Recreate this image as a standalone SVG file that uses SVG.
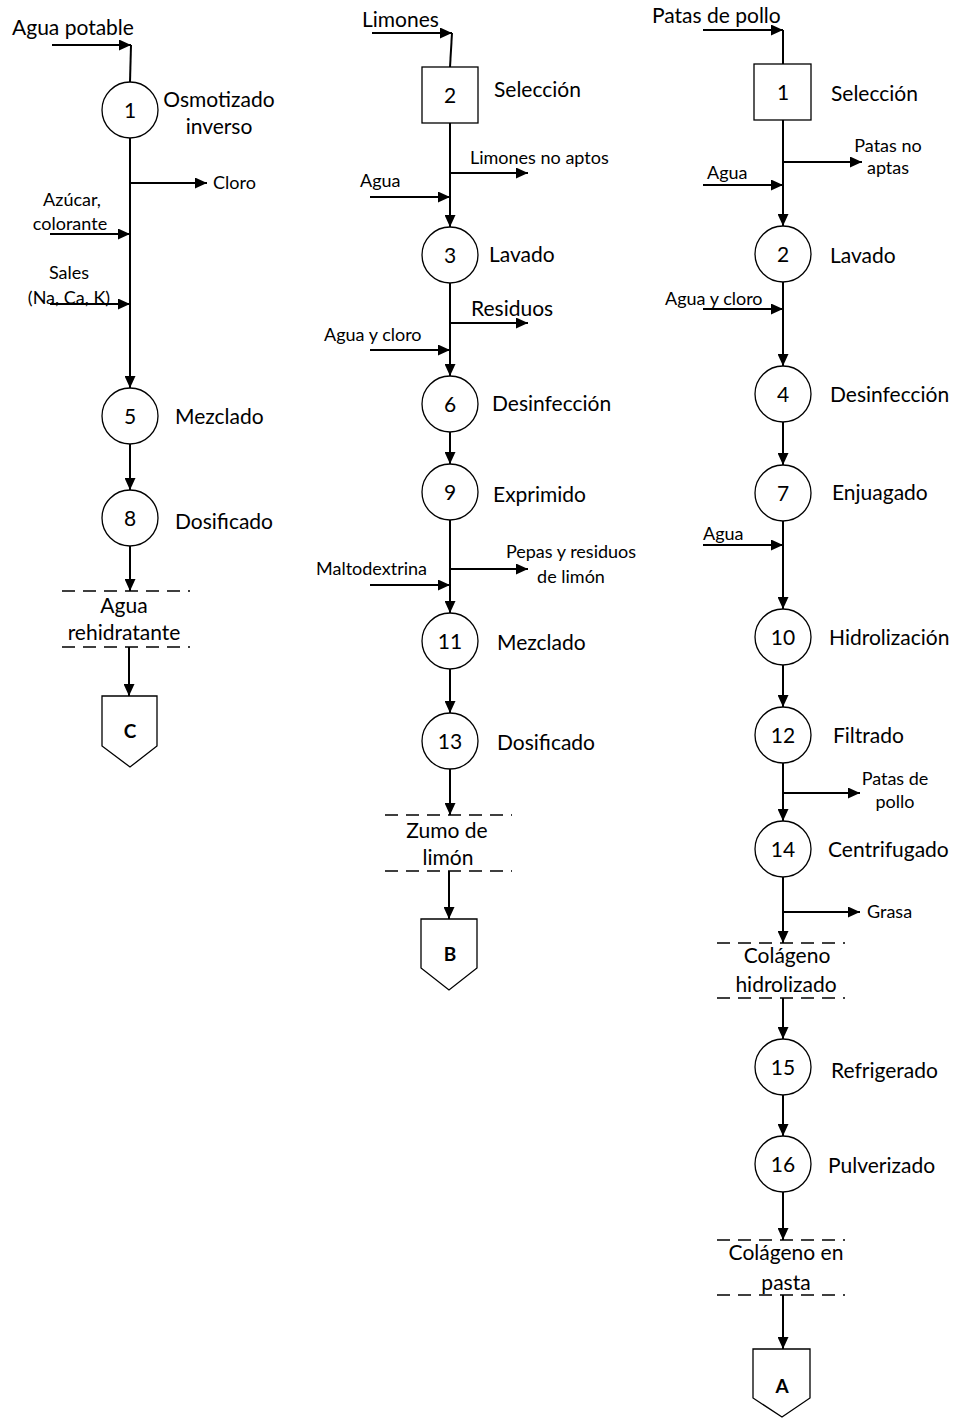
<svg xmlns="http://www.w3.org/2000/svg" width="957" height="1419" viewBox="0 0 957 1419">
  <style>
    text { font-family: Lato, "Liberation Sans", sans-serif; fill: #000; }
    .lg { font-size: 21px; }
    .sm { font-size: 18px; }
    .num { font-size: 21px; text-anchor: middle; }
    .mid { text-anchor: middle; }
    .tag { font-size: 19px; font-weight: bold; text-anchor: middle; }
    .proc { fill: #fff; stroke: #000; stroke-width: 1.3; }
    .flow { stroke: #000; stroke-width: 2; fill: none; }
    .arr { marker-end: url(#ah); }
    .cut { stroke: #000; stroke-width: 1.5; stroke-dasharray: 13 8; fill: none; }
  </style>
  <defs>
    <marker id="ah" markerUnits="userSpaceOnUse" markerWidth="12" markerHeight="11" refX="12" refY="5.5" orient="auto">
      <path d="M0,0 L12,5.5 L0,11 z" fill="#000"/>
    </marker>
  </defs>
  <rect width="957" height="1419" fill="#fff"/>

  <!-- connectors -->
  <g id="connectors">
    <!-- line C: rehydrating water -->
    <path class="flow arr" d="M52,45 H131"/>
    <path class="flow" d="M131,45 L130,82"/>
    <path class="flow arr" d="M130,138 V388"/>
    <path class="flow arr" d="M130,183 H207"/>
    <path class="flow arr" d="M50,234 H130"/>
    <path class="flow arr" d="M50,304 H130"/>
    <path class="flow arr" d="M130,444 V490"/>
    <path class="flow arr" d="M130,546 V591"/>
    <path class="flow arr" d="M129,647 V696"/>
    <!-- line B: lemon juice -->
    <path class="flow arr" d="M372,33 H452"/>
    <path class="flow" d="M452,33 L450,67"/>
    <path class="flow arr" d="M450,123 V227"/>
    <path class="flow arr" d="M450,173 H528"/>
    <path class="flow arr" d="M370,197 H450"/>
    <path class="flow arr" d="M450,283 V376"/>
    <path class="flow arr" d="M450,323 H528"/>
    <path class="flow arr" d="M370,350 H450"/>
    <path class="flow arr" d="M450,432 V464"/>
    <path class="flow arr" d="M450,520 V613"/>
    <path class="flow arr" d="M450,569 H528"/>
    <path class="flow arr" d="M370,585 H450"/>
    <path class="flow arr" d="M450,669 V713"/>
    <path class="flow arr" d="M450,769 V815"/>
    <path class="flow arr" d="M449,871 V919"/>
    <!-- line A: collagen -->
    <path class="flow arr" d="M703,30 H783"/>
    <path class="flow" d="M783,30 V64"/>
    <path class="flow arr" d="M783,120 V226"/>
    <path class="flow arr" d="M783,162 H862"/>
    <path class="flow arr" d="M703,185 H783"/>
    <path class="flow arr" d="M783,282 V366"/>
    <path class="flow arr" d="M703,309 H783"/>
    <path class="flow arr" d="M783,422 V465"/>
    <path class="flow arr" d="M783,521 V609"/>
    <path class="flow arr" d="M703,545 H783"/>
    <path class="flow arr" d="M783,665 V707"/>
    <path class="flow arr" d="M783,763 V821"/>
    <path class="flow arr" d="M783,793 H860"/>
    <path class="flow arr" d="M783,877 V943"/>
    <path class="flow arr" d="M783,912 H860"/>
    <path class="flow arr" d="M783,998 V1039"/>
    <path class="flow arr" d="M783,1095 V1136"/>
    <path class="flow arr" d="M783,1192 V1240"/>
    <path class="flow arr" d="M783,1295 V1349"/>
  </g>

  <!-- stream labels -->
  <g id="streams">
    <text class="lg" x="12" y="35">Agua potable</text>
    <text class="sm" x="213" y="189">Cloro</text>
    <text class="sm mid" x="72" y="206">Azúcar,</text>
    <text class="sm mid" x="70" y="230">colorante</text>
    <text class="sm mid" x="69" y="279">Sales</text>
    <text class="sm mid" x="69" y="304">(Na, Ca, K)</text>

    <text class="lg" x="362" y="27">Limones</text>
    <text class="sm" x="470" y="164">Limones no aptos</text>
    <text class="sm" x="360" y="187">Agua</text>
    <text class="lg" x="471" y="316">Residuos</text>
    <text class="sm" x="324" y="341">Agua y cloro</text>
    <text class="sm mid" x="571" y="558">Pepas y residuos</text>
    <text class="sm mid" x="571" y="583">de limón</text>
    <text class="sm" x="316" y="575">Maltodextrina</text>

    <text class="lg" x="652" y="23">Patas de pollo</text>
    <text class="sm mid" x="888" y="152">Patas no</text>
    <text class="sm mid" x="888" y="174">aptas</text>
    <text class="sm" x="707" y="179">Agua</text>
    <text class="sm" x="665" y="305">Agua y cloro</text>
    <text class="sm" x="703" y="540">Agua</text>
    <text class="sm mid" x="895" y="785">Patas de</text>
    <text class="sm mid" x="895" y="808">pollo</text>
    <text class="sm" x="867" y="918">Grasa</text>
  </g>

  <!-- line C nodes -->
  <g id="op-c1">
    <circle class="proc" cx="130" cy="110" r="28"/>
    <text class="num" x="130" y="118">1</text>
    <text class="lg mid" x="219" y="107">Osmotizado</text>
    <text class="lg mid" x="219" y="134">inverso</text>
  </g>
  <g id="op-c5">
    <circle class="proc" cx="130" cy="416" r="28"/>
    <text class="num" x="130" y="424">5</text>
    <text class="lg" x="175" y="424">Mezclado</text>
  </g>
  <g id="op-c8">
    <circle class="proc" cx="130" cy="518" r="28"/>
    <text class="num" x="130" y="526">8</text>
    <text class="lg" x="175" y="529">Dosificado</text>
  </g>
  <g id="prod-c">
    <path class="cut" d="M62,591 H190 M62,647 H190"/>
    <text class="lg mid" x="124" y="613">Agua</text>
    <text class="lg mid" x="124" y="640">rehidratante</text>
  </g>
  <g id="off-c">
    <polygon class="proc" points="102,696 157,696 157,746 130,767 102,746"/>
    <text class="tag" x="130" y="738">C</text>
  </g>

  <!-- line B nodes -->
  <g id="op-b2">
    <rect class="proc" x="422" y="67" width="56" height="56"/>
    <text class="num" x="450" y="103">2</text>
    <text class="lg" x="494" y="97">Selección</text>
  </g>
  <g id="op-b3">
    <circle class="proc" cx="450" cy="255" r="28"/>
    <text class="num" x="450" y="263">3</text>
    <text class="lg" x="489" y="262">Lavado</text>
  </g>
  <g id="op-b6">
    <circle class="proc" cx="450" cy="404" r="28"/>
    <text class="num" x="450" y="412">6</text>
    <text class="lg" x="492" y="411">Desinfección</text>
  </g>
  <g id="op-b9">
    <circle class="proc" cx="450" cy="492" r="28"/>
    <text class="num" x="450" y="500">9</text>
    <text class="lg" x="493" y="502">Exprimido</text>
  </g>
  <g id="op-b11">
    <circle class="proc" cx="450" cy="641" r="28"/>
    <text class="num" x="450" y="649">11</text>
    <text class="lg" x="497" y="650">Mezclado</text>
  </g>
  <g id="op-b13">
    <circle class="proc" cx="450" cy="741" r="28"/>
    <text class="num" x="450" y="749">13</text>
    <text class="lg" x="497" y="750">Dosificado</text>
  </g>
  <g id="prod-b">
    <path class="cut" d="M385,815 H512 M385,871 H512"/>
    <text class="lg mid" x="447" y="838">Zumo de</text>
    <text class="lg mid" x="448" y="865">limón</text>
  </g>
  <g id="off-b">
    <polygon class="proc" points="421,919 477,919 477,968 449,990 421,968"/>
    <text class="tag" x="450" y="961">B</text>
  </g>

  <!-- line A nodes -->
  <g id="op-a1">
    <rect class="proc" x="754" y="64" width="57" height="56"/>
    <text class="num" x="783" y="100">1</text>
    <text class="lg" x="831" y="101">Selección</text>
  </g>
  <g id="op-a2">
    <circle class="proc" cx="783" cy="254" r="28"/>
    <text class="num" x="783" y="262">2</text>
    <text class="lg" x="830" y="263">Lavado</text>
  </g>
  <g id="op-a4">
    <circle class="proc" cx="783" cy="394" r="28"/>
    <text class="num" x="783" y="402">4</text>
    <text class="lg" x="830" y="402">Desinfección</text>
  </g>
  <g id="op-a7">
    <circle class="proc" cx="783" cy="493" r="28"/>
    <text class="num" x="783" y="501">7</text>
    <text class="lg" x="832" y="500">Enjuagado</text>
  </g>
  <g id="op-a10">
    <circle class="proc" cx="783" cy="637" r="28"/>
    <text class="num" x="783" y="645">10</text>
    <text class="lg" x="829" y="645">Hidrolización</text>
  </g>
  <g id="op-a12">
    <circle class="proc" cx="783" cy="735" r="28"/>
    <text class="num" x="783" y="743">12</text>
    <text class="lg" x="833" y="743">Filtrado</text>
  </g>
  <g id="op-a14">
    <circle class="proc" cx="783" cy="849" r="28"/>
    <text class="num" x="783" y="857">14</text>
    <text class="lg" x="828" y="857">Centrifugado</text>
  </g>
  <g id="prod-a1">
    <path class="cut" d="M717,943 H845 M717,998 H845"/>
    <text class="lg mid" x="787" y="963">Colágeno</text>
    <text class="lg mid" x="786" y="992">hidrolizado</text>
  </g>
  <g id="op-a15">
    <circle class="proc" cx="783" cy="1067" r="28"/>
    <text class="num" x="783" y="1075">15</text>
    <text class="lg" x="831" y="1078">Refrigerado</text>
  </g>
  <g id="op-a16">
    <circle class="proc" cx="783" cy="1164" r="28"/>
    <text class="num" x="783" y="1172">16</text>
    <text class="lg" x="828" y="1173">Pulverizado</text>
  </g>
  <g id="prod-a2">
    <path class="cut" d="M717,1240 H845 M717,1295 H845"/>
    <text class="lg mid" x="786" y="1260">Colágeno en</text>
    <text class="lg mid" x="786" y="1290">pasta</text>
  </g>
  <g id="off-a">
    <polygon class="proc" points="753,1349 810,1349 810,1398 782,1417 753,1398"/>
    <text class="tag" x="782" y="1393">A</text>
  </g>
</svg>
